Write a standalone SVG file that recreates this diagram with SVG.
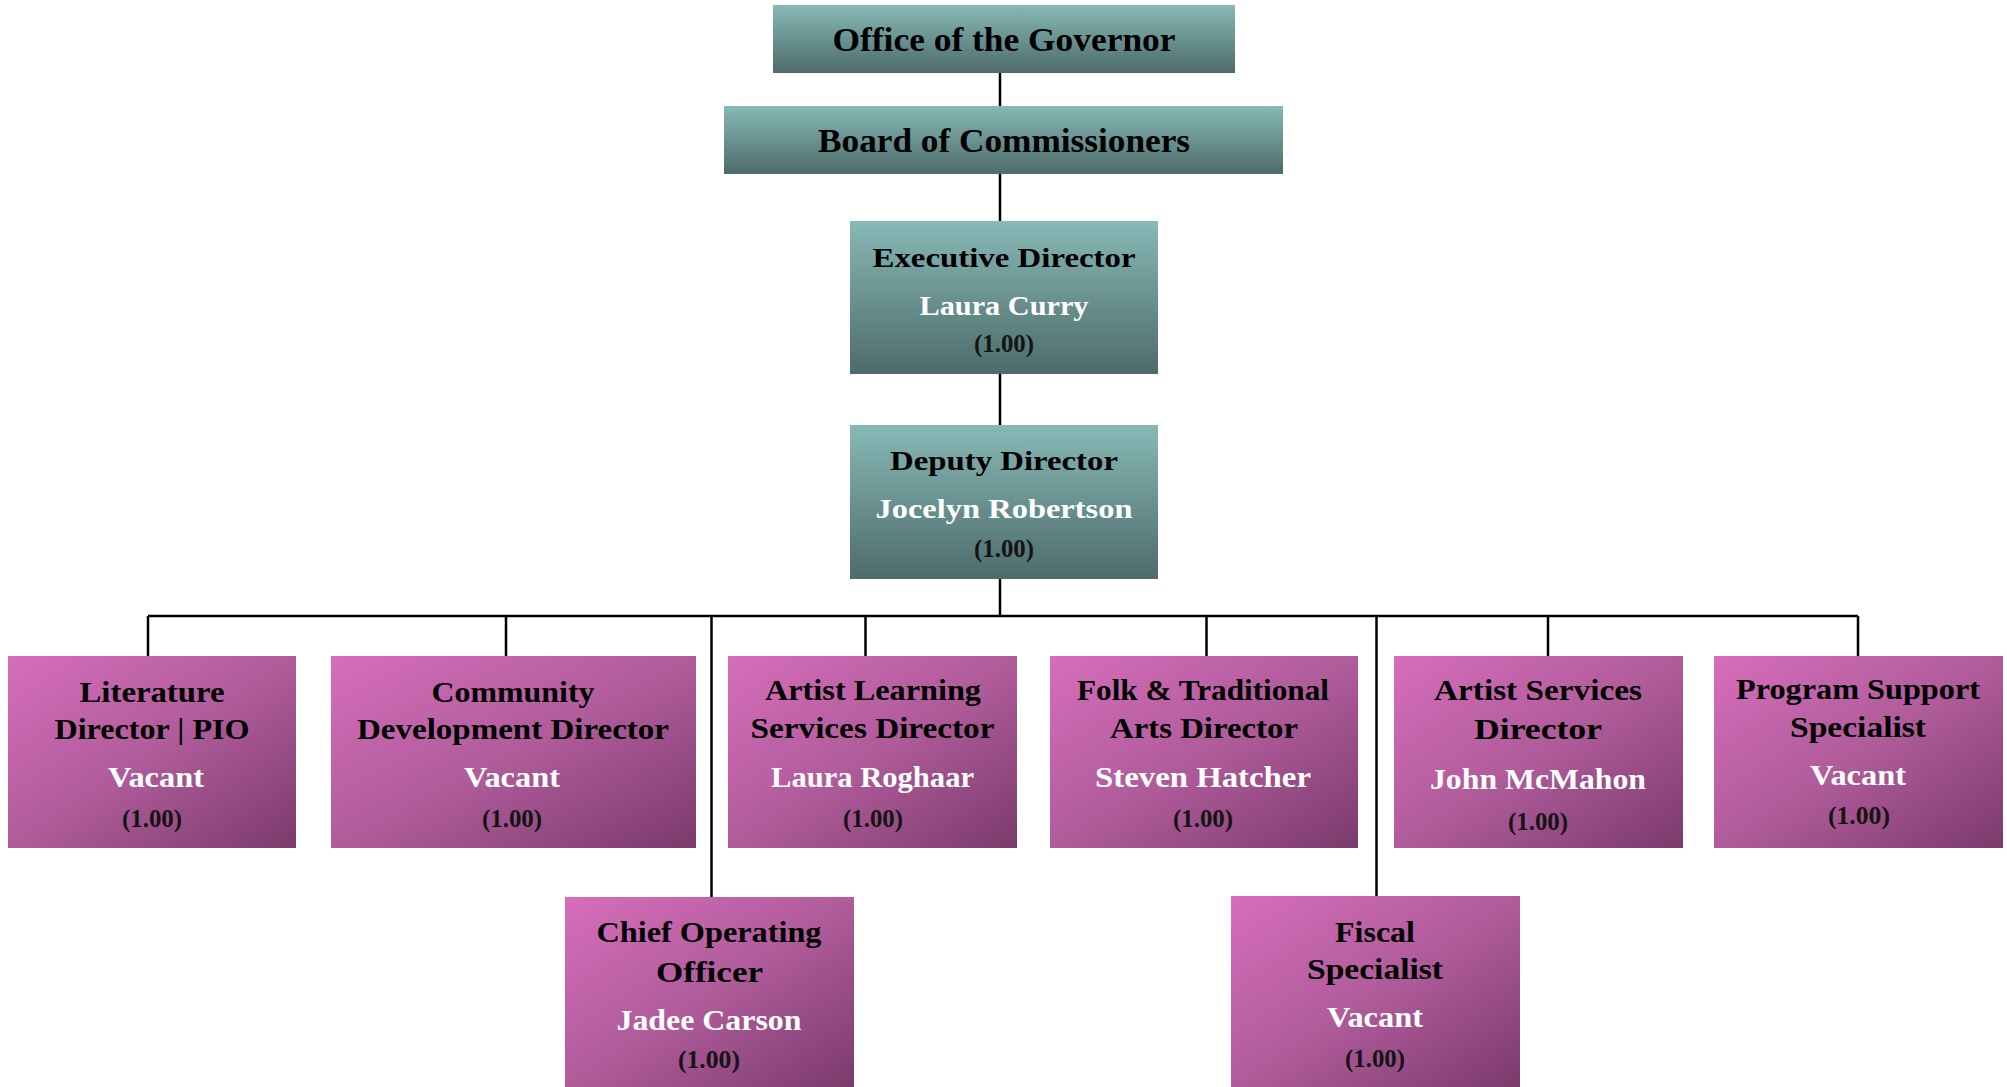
<svg xmlns="http://www.w3.org/2000/svg" width="2007" height="1087" viewBox="0 0 2007 1087">
<defs>
<linearGradient id="teal" x1="0" y1="0" x2="0" y2="1">
<stop offset="0" stop-color="#87b9b6"/>
<stop offset="1" stop-color="#4d6b6a"/>
</linearGradient>
<linearGradient id="pink" x1="0" y1="0" x2="1" y2="1">
<stop offset="0" stop-color="#d76dbc"/>
<stop offset="0.5" stop-color="#b05c9b"/>
<stop offset="1" stop-color="#7b3a6c"/>
</linearGradient>
<style>
.bt{fill:url(#teal)}
.bp{fill:url(#pink)}
text{font-family:"Liberation Serif","DejaVu Serif",serif;text-anchor:middle}
.h{font-size:33px;font-weight:bold;fill:#000}
.t{font-size:28px;font-weight:bold;fill:#000}
.m{font-size:30px;font-weight:bold;fill:#000}
.n{font-weight:bold;fill:#fff}
.f{font-size:26px;font-weight:bold;fill:#141414}
.c{stroke:#000;stroke-width:2.5;fill:none}
</style>
</defs>
<rect width="2007" height="1087" fill="#fff"/>
<g id="connectors">
<line class="c" x1="1000" y1="73" x2="1000" y2="106"/>
<line class="c" x1="1000" y1="174" x2="1000" y2="221"/>
<line class="c" x1="1000" y1="374" x2="1000" y2="425"/>
<line class="c" x1="1000" y1="579" x2="1000" y2="616"/>
<line class="c" x1="148" y1="616" x2="1858" y2="616"/>
<line class="c" x1="148" y1="616" x2="148" y2="656"/>
<line class="c" x1="506" y1="616" x2="506" y2="656"/>
<line class="c" x1="865.5" y1="616" x2="865.5" y2="656"/>
<line class="c" x1="1206.5" y1="616" x2="1206.5" y2="656"/>
<line class="c" x1="1548" y1="616" x2="1548" y2="656"/>
<line class="c" x1="1858" y1="616" x2="1858" y2="656"/>
<line class="c" x1="711.5" y1="616" x2="711.5" y2="897"/>
<line class="c" x1="1376.5" y1="616" x2="1376.5" y2="896"/>
</g>
<g id="governor">
<rect class="bt" x="773" y="5" width="462" height="68"/>
<text class="h" x="1004" y="51" textLength="343" lengthAdjust="spacingAndGlyphs">Office of the Governor</text>
</g>
<g id="board">
<rect class="bt" x="724" y="106" width="559" height="68"/>
<text class="h" x="1004" y="152" textLength="372" lengthAdjust="spacingAndGlyphs">Board of Commissioners</text>
</g>
<g id="executive">
<rect class="bt" x="850" y="221" width="308" height="153"/>
<text class="t" x="1004" y="267" textLength="263" lengthAdjust="spacingAndGlyphs">Executive Director</text>
<text class="t n" x="1004" y="315" textLength="169" lengthAdjust="spacingAndGlyphs">Laura Curry</text>
<text class="f" x="1004" y="352" textLength="60" lengthAdjust="spacingAndGlyphs">(1.00)</text>
</g>
<g id="deputy">
<rect class="bt" x="850" y="425" width="308" height="154"/>
<text class="t" x="1004" y="470" textLength="228" lengthAdjust="spacingAndGlyphs">Deputy Director</text>
<text class="t n" x="1004" y="518" textLength="257" lengthAdjust="spacingAndGlyphs">Jocelyn Robertson</text>
<text class="f" x="1004" y="557" textLength="60" lengthAdjust="spacingAndGlyphs">(1.00)</text>
</g>
<g id="literature">
<rect class="bp" x="8" y="656" width="288" height="192"/>
<text class="m" x="152" y="702" textLength="145" lengthAdjust="spacingAndGlyphs">Literature</text>
<text class="m" x="152" y="739" textLength="195" lengthAdjust="spacingAndGlyphs">Director | PIO</text>
<text class="m n" x="156" y="787" textLength="96" lengthAdjust="spacingAndGlyphs">Vacant</text>
<text class="f" x="152" y="827" textLength="60" lengthAdjust="spacingAndGlyphs">(1.00)</text>
</g>
<g id="community">
<rect class="bp" x="331" y="656" width="365" height="192"/>
<text class="m" x="513" y="702" textLength="163" lengthAdjust="spacingAndGlyphs">Community</text>
<text class="m" x="513" y="739" textLength="312" lengthAdjust="spacingAndGlyphs">Development Director</text>
<text class="m n" x="512" y="787" textLength="96" lengthAdjust="spacingAndGlyphs">Vacant</text>
<text class="f" x="512" y="827" textLength="60" lengthAdjust="spacingAndGlyphs">(1.00)</text>
</g>
<g id="artist-learning">
<rect class="bp" x="728" y="656" width="289" height="192"/>
<text class="m" x="873" y="700" textLength="216" lengthAdjust="spacingAndGlyphs">Artist Learning</text>
<text class="m" x="872.5" y="738" textLength="244" lengthAdjust="spacingAndGlyphs">Services Director</text>
<text class="m n" x="872.5" y="787" textLength="203" lengthAdjust="spacingAndGlyphs">Laura Roghaar</text>
<text class="f" x="873" y="827" textLength="60" lengthAdjust="spacingAndGlyphs">(1.00)</text>
</g>
<g id="folk">
<rect class="bp" x="1050" y="656" width="308" height="192"/>
<text class="m" x="1203" y="700" textLength="252" lengthAdjust="spacingAndGlyphs">Folk &amp; Traditional</text>
<text class="m" x="1204" y="738" textLength="188" lengthAdjust="spacingAndGlyphs">Arts Director</text>
<text class="m n" x="1203" y="787" textLength="216" lengthAdjust="spacingAndGlyphs">Steven Hatcher</text>
<text class="f" x="1203" y="827" textLength="60" lengthAdjust="spacingAndGlyphs">(1.00)</text>
</g>
<g id="artist-services">
<rect class="bp" x="1394" y="656" width="289" height="192"/>
<text class="m" x="1538" y="700" textLength="208" lengthAdjust="spacingAndGlyphs">Artist Services</text>
<text class="m" x="1538" y="739" textLength="128" lengthAdjust="spacingAndGlyphs">Director</text>
<text class="m n" x="1538" y="789" textLength="216" lengthAdjust="spacingAndGlyphs">John McMahon</text>
<text class="f" x="1538" y="830" textLength="60" lengthAdjust="spacingAndGlyphs">(1.00)</text>
</g>
<g id="program-support">
<rect class="bp" x="1714" y="656" width="289" height="192"/>
<text class="m" x="1858" y="699" textLength="244" lengthAdjust="spacingAndGlyphs">Program Support</text>
<text class="m" x="1858" y="737" textLength="136" lengthAdjust="spacingAndGlyphs">Specialist</text>
<text class="m n" x="1858" y="785" textLength="96" lengthAdjust="spacingAndGlyphs">Vacant</text>
<text class="f" x="1859" y="824" textLength="62" lengthAdjust="spacingAndGlyphs">(1.00)</text>
</g>
<g id="coo">
<rect class="bp" x="565" y="897" width="289" height="190"/>
<text class="m" x="709" y="942" textLength="225" lengthAdjust="spacingAndGlyphs">Chief Operating</text>
<text class="m" x="709.5" y="982" textLength="107" lengthAdjust="spacingAndGlyphs">Officer</text>
<text class="m n" x="709" y="1030" textLength="185" lengthAdjust="spacingAndGlyphs">Jadee Carson</text>
<text class="f" x="709" y="1068" textLength="62" lengthAdjust="spacingAndGlyphs">(1.00)</text>
</g>
<g id="fiscal">
<rect class="bp" x="1231" y="896" width="289" height="191"/>
<text class="m" x="1375" y="942" textLength="80" lengthAdjust="spacingAndGlyphs">Fiscal</text>
<text class="m" x="1375" y="979" textLength="136" lengthAdjust="spacingAndGlyphs">Specialist</text>
<text class="m n" x="1375" y="1027" textLength="96" lengthAdjust="spacingAndGlyphs">Vacant</text>
<text class="f" x="1375" y="1067" textLength="60" lengthAdjust="spacingAndGlyphs">(1.00)</text>
</g>
</svg>
